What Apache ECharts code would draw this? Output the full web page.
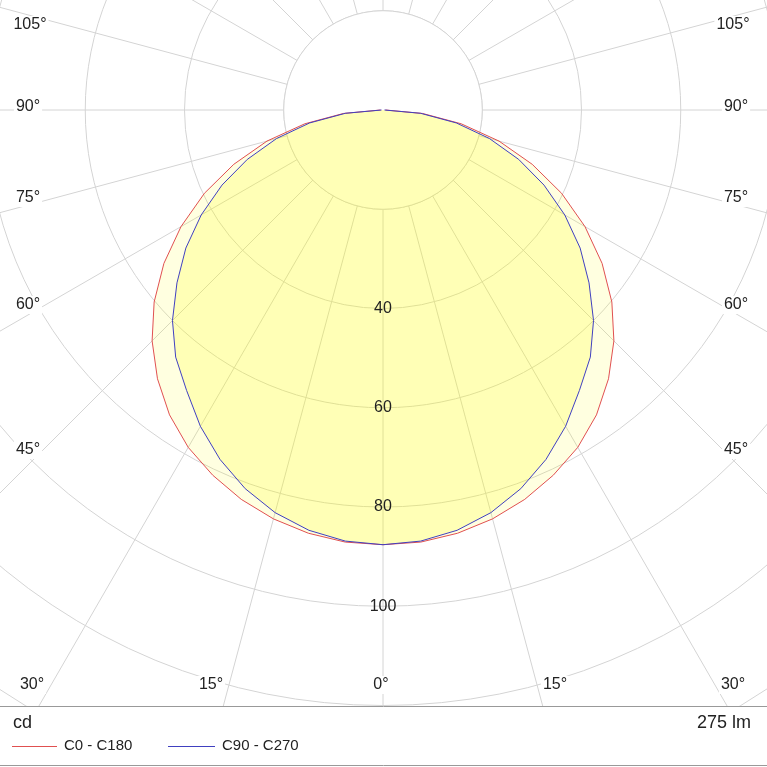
<!DOCTYPE html>
<html><head><meta charset="utf-8">
<script src="https://cdn.jsdelivr.net/npm/echarts@6/dist/echarts.min.js"></script>
<style>
html,body{margin:0;padding:0;background:#fff;}
#wrap{position:relative;width:767px;height:767px;overflow:hidden;}
#clip{position:absolute;left:0;top:0;width:767px;height:706px;overflow:hidden;}
#polar{position:absolute;left:-417px;top:-690px;width:1600px;height:1600px;}
#over{position:absolute;left:0;top:0;width:767px;height:767px;}
</style></head>
<body><div id="wrap"><div id="clip"><div id="polar"></div></div><div id="over"></div></div>
<script>
const gammaAngles = [0,5,10,15,20,25,30,35,40,45,50,55,60,65,70,75,80,85,90];
const c0c180 = [87.6,87.4,86.6,85.3,83.5,81.2,78.5,75.0,70.7,65.8,60.2,53.9,47.0,39.7,32.0,24.2,16.0,8.0,0.5];
const c90c270 = [87.6,87.2,86.0,84.0,81.2,77.7,73.6,69.0,65.0,60.0,54.2,48.5,42.3,35.8,29.1,22.2,15.0,7.6,0.3];
const radiusTicks = [40,60,80,100];
const angleLabelsLeft = [['105°',30,25],['90°',28,107],['75°',28,198],['60°',28,305],['45°',28,450],['30°',32,685]];
const angleLabelsRight = [['105°',733,25],['90°',736,107],['75°',736,198],['60°',736,305],['45°',736,450],['30°',733,685]];
const bottomLabels = [['15°',211,685],['0°',381,685],['15°',555,685]];
const seriesNames = ['C0 - C180','C90 - C270'];
const fluxText = '275 lm';
const unitText = 'cd';

function closedCurve(vals){
  const pts=[];
  for(let i=gammaAngles.length-1;i>=0;i--) pts.push([vals[i],360-gammaAngles[i]]);
  for(let i=1;i<gammaAngles.length;i++) pts.push([vals[i],gammaAngles[i]]);
  return pts;
}
const redPts=closedCurve(c0c180), bluePts=closedCurve(c90c270);
function fillSeries(pts,color,z){
  return {type:'custom',coordinateSystem:'polar',z:z,silent:true,data:[[0,0]],
    renderItem:function(params,api){
      return {type:'polygon',shape:{points:pts.map(p=>api.coord(p))},style:{fill:color,stroke:null}};
    }};
}
const polar=echarts.init(document.getElementById('polar'),null,{renderer:'canvas'});
polar.setOption({
  animation:false,
  polar:{center:['50%','50%'],radius:794},
  radiusAxis:{type:'value',min:0,max:160,interval:20,z:0,axisLine:{show:false},axisTick:{show:false},axisLabel:{show:false},
    splitLine:{show:true,lineStyle:{color:'#d4d4d4',width:1}}},
  angleAxis:{type:'value',min:0,max:360,interval:15,startAngle:270,clockwise:true,z:0,axisLine:{show:false},axisTick:{show:false},axisLabel:{show:false},
    splitLine:{show:true,lineStyle:{color:'#d4d4d4',width:1}}},
  graphic:[{type:'circle',z:1,shape:{cx:800,cy:800,r:99.3},style:{fill:'#fff',stroke:'#d4d4d4',lineWidth:1}}],
  series:[
    fillSeries(redPts,'rgba(255,255,0,0.12)',3),
    fillSeries(bluePts,'rgba(255,255,0,0.19)',4),
    {type:'line',coordinateSystem:'polar',name:seriesNames[0],data:redPts,showSymbol:false,smooth:false,z:6,lineStyle:{color:'#e05050',width:1}},
    {type:'line',coordinateSystem:'polar',name:seriesNames[1],data:bluePts,showSymbol:false,smooth:false,z:7,lineStyle:{color:'#4040c0',width:1}}
  ]
});
const over=echarts.init(document.getElementById('over'));
const g=[];
const font='16px "Liberation Sans", Arial, sans-serif';
angleLabelsLeft.concat(angleLabelsRight,bottomLabels).forEach(a=>{
  g.push({type:'text',x:a[1],y:a[2],style:{text:a[0],font:font,fill:'#222',align:'center',verticalAlign:'middle',backgroundColor:'#fff',padding:[1,2]}});
});
radiusTicks.forEach(r=>{
  g.push({type:'text',x:383,y:110+r*4.9625,style:{text:String(r),font:font,fill:'#222',align:'center',verticalAlign:'middle',backgroundColor:'rgba(255,255,255,0)',padding:[0,1]}});
});
g.push({type:'line',shape:{x1:0,y1:706.5,x2:767,y2:706.5},style:{stroke:'#999',lineWidth:1}});
g.push({type:'line',shape:{x1:0,y1:765.5,x2:767,y2:765.5},style:{stroke:'#999',lineWidth:1}});
g.push({type:'text',x:13,y:723,style:{text:unitText,font:'18px "Liberation Sans", Arial, sans-serif',fill:'#222',verticalAlign:'middle'}});
g.push({type:'text',x:751,y:723,style:{text:fluxText,font:'18px "Liberation Sans", Arial, sans-serif',fill:'#222',align:'right',verticalAlign:'middle'}});
g.push({type:'line',shape:{x1:12,y1:746.5,x2:57,y2:746.5},style:{stroke:'#e05050',lineWidth:1}});
g.push({type:'text',x:64,y:746,style:{text:seriesNames[0],font:'15px "Liberation Sans", Arial, sans-serif',fill:'#222',verticalAlign:'middle'}});
g.push({type:'line',shape:{x1:168,y1:746.5,x2:215,y2:746.5},style:{stroke:'#4040c0',lineWidth:1}});
g.push({type:'text',x:222,y:746,style:{text:seriesNames[1],font:'15px "Liberation Sans", Arial, sans-serif',fill:'#222',verticalAlign:'middle'}});
over.setOption({animation:false,graphic:g});
</script></body></html>
